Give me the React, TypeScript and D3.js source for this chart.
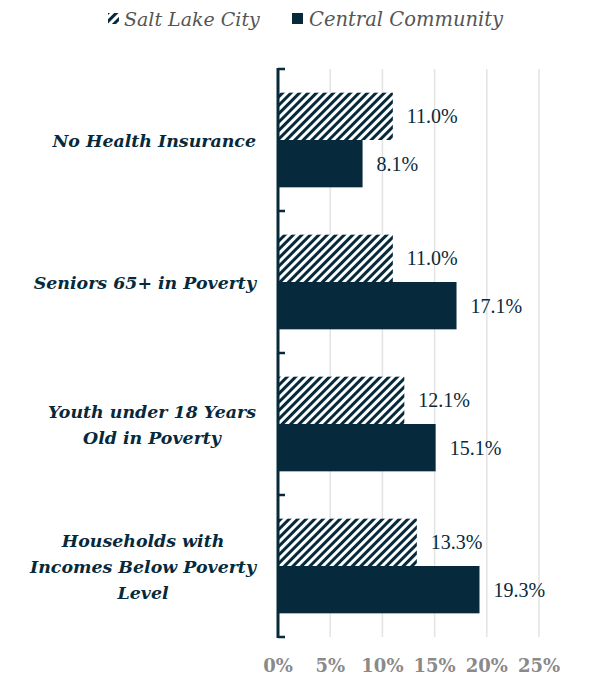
import React from "react";
import * as d3 from "d3";

const categories = [
  ["No Health Insurance"],
  ["Seniors 65+ in Poverty"],
  ["Youth under 18 Years", "Old in Poverty"],
  ["Households with", "Incomes Below Poverty", "Level"],
];
const saltLakeCity = [11.0, 11.0, 12.1, 13.3];
const centralCommunity = [8.1, 17.1, 15.1, 19.3];
const xTicks = [0, 5, 10, 15, 20, 25];
const seriesNames = ["Salt Lake City", "Central Community"];

const DARK = "#062a3b";
const W = 592;
const H = 679;
const LABEL_SIZE = 17.4;

function measure(text: string, font: string): number {
  const c = document.createElement("canvas").getContext("2d");
  if (!c) return text.length * LABEL_SIZE * 0.62;
  c.font = font;
  return c.measureText(text).width;
}

export default function App() {
  const x = d3.scaleLinear().domain([0, 25]).range([278, 539]);
  const y = d3
    .scaleBand<number>()
    .domain(d3.range(categories.length))
    .range([69, 637]);
  const inner = d3
    .scaleBand<number>()
    .domain([0, 1])
    .range([0, y.bandwidth()])
    .paddingOuter(0.5)
    .paddingInner(0);
  const serif = "'Liberation Serif', 'DejaVu Serif', serif";
  const dv = "'DejaVu Serif', serif";
  const labelFontCss = `italic bold ${LABEL_SIZE}px 'DejaVu Serif'`;
  const labelRight = 256;
  return (
    <svg width={W} height={H} style={{ position: "absolute", left: 0, top: 0 }}>
      <defs>
        <pattern id="hatch" patternUnits="userSpaceOnUse" width={6} height={6} patternTransform="rotate(45)">
          <rect width={6} height={6} fill="#fff" />
          <rect width={3} height={6} fill={DARK} />
        </pattern>
      </defs>
      <rect width={W} height={H} fill="#fff" />
      {/* legend */}
      <g>
        <rect x={108} y={13} width={11} height={11} fill="url(#hatch)" />
        <text x={124} y={26} fontFamily={dv} fontStyle="italic" fontSize={19} fill="#555">
          {seriesNames[0]}
        </text>
        <rect x={292} y={13} width={11} height={11} fill={DARK} />
        <text x={309} y={26} fontFamily={dv} fontStyle="italic" fontSize={19.5} fill="#555">
          {seriesNames[1]}
        </text>
      </g>
      {/* grid */}
      {xTicks.slice(1).map((t) => (
        <line key={t} x1={x(t)} x2={x(t)} y1={69} y2={637} stroke="#e3e3e3" strokeWidth={1.5} />
      ))}
      {/* bars */}
      {categories.map((c, i) => {
        const y0 = y(i)!;
        const h = inner.bandwidth();
        const maxW = Math.max(...c.map((l) => measure(l, labelFontCss)));
        const cx = labelRight - maxW / 2;
        return (
          <g key={i}>
            <rect x={x(0)} y={y0 + inner(0)!} width={x(saltLakeCity[i]) - x(0)} height={h} fill="url(#hatch)" />
            <rect x={x(0)} y={y0 + inner(1)!} width={x(centralCommunity[i]) - x(0)} height={h} fill={DARK} />
            <text x={x(saltLakeCity[i]) + 14} y={y0 + inner(0)! + h / 2 + 7} fontFamily={serif} fontSize={20} fill={DARK}>
              {saltLakeCity[i].toFixed(1)}%
            </text>
            <text x={x(centralCommunity[i]) + 14} y={y0 + inner(1)! + h / 2 + 7} fontFamily={serif} fontSize={20} fill={DARK}>
              {centralCommunity[i].toFixed(1)}%
            </text>
            <text
              textAnchor="middle"
              fontFamily={dv}
              fontWeight="bold"
              fontStyle="italic"
              fontSize={LABEL_SIZE}
              fill={DARK}
            >
              {c.map((line, k) => (
                <tspan key={k} x={cx} y={y0 + y.bandwidth() / 2 + 7 + (k - (c.length - 1) / 2) * 26}>
                  {line}
                </tspan>
              ))}
            </text>
          </g>
        );
      })}
      {/* axis */}
      <line x1={x(0)} x2={x(0)} y1={68} y2={638} stroke={DARK} strokeWidth={3} />
      {[...y.domain().map((d) => y(d)!), 637].map((v, i) => (
        <line key={i} x1={x(0)} x2={x(0) + 7} y1={v} y2={v} stroke={DARK} strokeWidth={2.5} />
      ))}
      {xTicks.map((t) => (
        <text key={t} x={x(t)} y={672} textAnchor="middle" fontFamily={dv} fontWeight="bold" fontSize={18} fill="#8a8a8a">
          {t}%
        </text>
      ))}
    </svg>
  );
}
